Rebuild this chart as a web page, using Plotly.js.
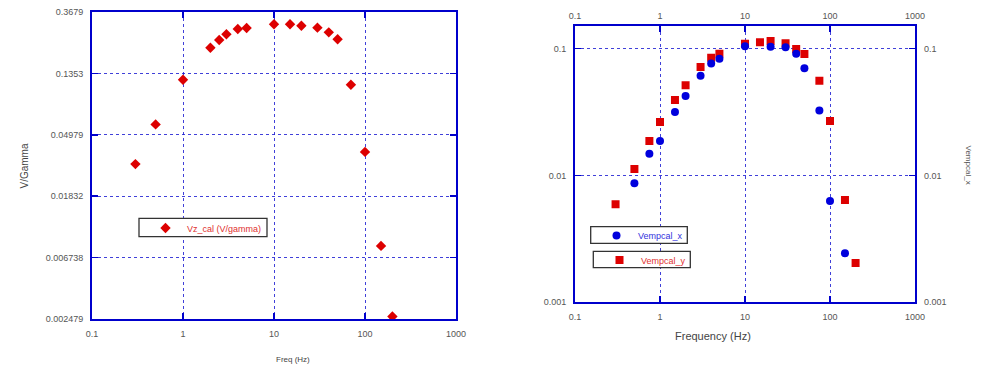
<!DOCTYPE html>
<html>
<head>
<meta charset="utf-8">
<script src="https://cdn.plot.ly/plotly-3.0.1.min.js"></script>
<style>html,body{margin:0;padding:0;background:#fff;}#chart{width:982px;height:375px;}</style>
</head>
<body>
<div id="chart"></div>
<script>
// Left chart data: Vz_cal (V/gamma)
const freqZ = [0.3, 0.5, 1, 2, 2.5, 3, 4, 5, 10, 15, 20, 30, 40, 50, 70, 100, 150, 200];
const vzCal = [0.0309, 0.059, 0.122, 0.2056, 0.233, 0.2558, 0.279, 0.2834, 0.301, 0.301, 0.294, 0.285, 0.264, 0.236, 0.1125, 0.0377, 0.00815, 0.00258];

// Right chart data
const freqX = [0.5, 0.75, 1, 1.5, 2, 3, 4, 5, 10, 20, 30, 40, 50, 75, 100, 150];
const vempX = [0.0087, 0.0148, 0.0187, 0.0317, 0.0424, 0.0612, 0.0762, 0.0834, 0.1045, 0.1035, 0.1026, 0.0913, 0.070, 0.0325, 0.00628, 0.00244];
const freqY = [0.3, 0.5, 0.75, 1, 1.5, 2, 3, 4, 5, 10, 15, 20, 30, 40, 50, 75, 100, 150, 200];
const vempY = [0.00594, 0.01124, 0.0187, 0.0264, 0.0394, 0.0514, 0.0717, 0.0849, 0.0913, 0.1095, 0.1123, 0.115, 0.1104, 0.0995, 0.0908, 0.0559, 0.0269, 0.0064, 0.00204];

// Tick labels
const xTickVals = [0.1, 1, 10, 100, 1000];
const xTickText = ['0.1', '1', '10', '100', '1000'];
const yLeftExp = [1, 2, 3, 4, 5, 6];
const yLeftText = ['0.3679', '0.1353', '0.04979', '0.01832', '0.006738', '0.002479'];
const yRightVals = [0.001, 0.01, 0.1];
const yRightText = ['0.001', '0.01', '0.1'];

const W = 982, H = 375;
const px = x => x / W;
const py = y => 1 - y / H;

const blue = '#0000cc';
const grid = 'rgba(30,30,210,0.85)';
const tickFont = {family: 'Liberation Sans, Arial, sans-serif', size: 9, color: '#555'};

function logAxis(extra) {
  return Object.assign({
    type: 'log', showline: true, linecolor: blue, linewidth: 2, mirror: 'allticks',
    ticks: 'inside', ticklen: 6, tickcolor: blue, tickwidth: 1.5,
    showgrid: true, gridcolor: grid, griddash: 'dot', gridwidth: 1,
    zeroline: false, tickfont: tickFont, ticklabelstandoff: 5, fixedrange: true
  }, extra);
}

const traces = [
  {x: freqZ, y: vzCal, type: 'scatter', mode: 'markers', name: 'Vz_cal (V/gamma)',
   xaxis: 'x', yaxis: 'y', legend: 'legend', showlegend: true,
   marker: {symbol: 'diamond', size: 8, color: '#dd0000'}},
  {x: freqY, y: vempY, type: 'scatter', mode: 'markers', name: 'Vempcal_y',
   xaxis: 'x2', yaxis: 'y2', legend: 'legend3', showlegend: true,
   marker: {symbol: 'square', size: 8, color: '#dd0000'}},
  {x: freqX, y: vempX, type: 'scatter', mode: 'markers', name: 'Vempcal_x',
   xaxis: 'x2', yaxis: 'y2', legend: 'legend2', showlegend: true,
   marker: {symbol: 'circle', size: 8, color: '#0000dd'}},
  {x: [], y: [], type: 'scatter', mode: 'markers', xaxis: 'x3', yaxis: 'y3', showlegend: false, hoverinfo: 'skip'}
];

const rightXRange = [-1, 3];
const rightYRange = [-3, Math.log10(0.15)];

function legendBox(x0, x1, y0, y1) {
  return {type: 'rect', xref: 'paper', yref: 'paper', x0: px(x0), x1: px(x1), y0: py(y1), y1: py(y0),
    line: {color: '#333', width: 1.3}, fillcolor: '#fff', layer: 'above'};
}
function legendOpts(x, yTop, color) {
  return {x: px(x), y: py(yTop), xanchor: 'left', yanchor: 'top', bgcolor: 'rgba(0,0,0,0)',
    borderwidth: 0, font: {size: 9, color: color}, itemwidth: 33};
}

const layout = {
  width: W, height: H,
  margin: {l: 0, r: 0, t: 0, b: 0},
  paper_bgcolor: '#fff', plot_bgcolor: '#fff',
  showlegend: true,
  font: {family: 'Liberation Sans, Arial, sans-serif'},
  xaxis: logAxis({domain: [px(92), px(456)], anchor: 'y', range: [-1, 3],
    tickvals: xTickVals, ticktext: xTickText}),
  yaxis: logAxis({domain: [py(319), py(12)], anchor: 'x',
    range: [Math.log10(Math.exp(-6)), Math.log10(Math.exp(-1))],
    tickvals: yLeftExp.map(n => Math.exp(-n)), ticktext: yLeftText}),
  xaxis2: logAxis({domain: [px(575), px(915)], anchor: 'y2', range: rightXRange,
    tickvals: xTickVals, ticktext: xTickText}),
  yaxis2: logAxis({domain: [py(302.3), py(26.3)], anchor: 'x2', range: rightYRange,
    tickvals: yRightVals, ticktext: yRightText}),
  xaxis3: {type: 'log', overlaying: 'x2', side: 'top', anchor: 'y3', range: rightXRange,
    tickvals: xTickVals, ticktext: xTickText, showgrid: false, showline: false, ticks: '',
    zeroline: false, tickfont: tickFont, ticklabelstandoff: 5, fixedrange: true},
  yaxis3: {type: 'log', overlaying: 'y2', side: 'right', anchor: 'x3', range: rightYRange,
    tickvals: yRightVals, ticktext: yRightText, showgrid: false, showline: false, ticks: '',
    zeroline: false, tickfont: tickFont, ticklabelstandoff: 8, fixedrange: true},
  legend: legendOpts(144, 213.5, '#e03030'),
  legend2: legendOpts(595, 221, '#3333dd'),
  legend3: legendOpts(598, 245.5, '#e03030'),
  shapes: [
    legendBox(139, 267, 218.3, 236.7),
    legendBox(590.7, 687.3, 226.7, 243.3),
    legendBox(593.3, 690.3, 251.3, 267.7)
  ],
  annotations: [
    {text: 'V/Gamma', xref: 'paper', yref: 'paper', x: px(16), y: py(166), textangle: -90,
     showarrow: false, font: {size: 10, color: '#444'}},
    {text: 'Freq (Hz)', xref: 'paper', yref: 'paper', x: px(274), y: py(366),
     showarrow: false, font: {size: 8, color: '#444'}},
    {text: 'Frequency (Hz)', xref: 'paper', yref: 'paper', x: px(753), y: py(344),
     showarrow: false, font: {size: 11, color: '#444'}},
    {text: 'Vempcal_x', xref: 'paper', yref: 'paper', x: px(974), y: py(165), textangle: 90,
     showarrow: false, font: {size: 8, color: '#555'}}
  ]
};

Plotly.newPlot('chart', traces, layout, {displayModeBar: false, staticPlot: true});
</script>
</body>
</html>
